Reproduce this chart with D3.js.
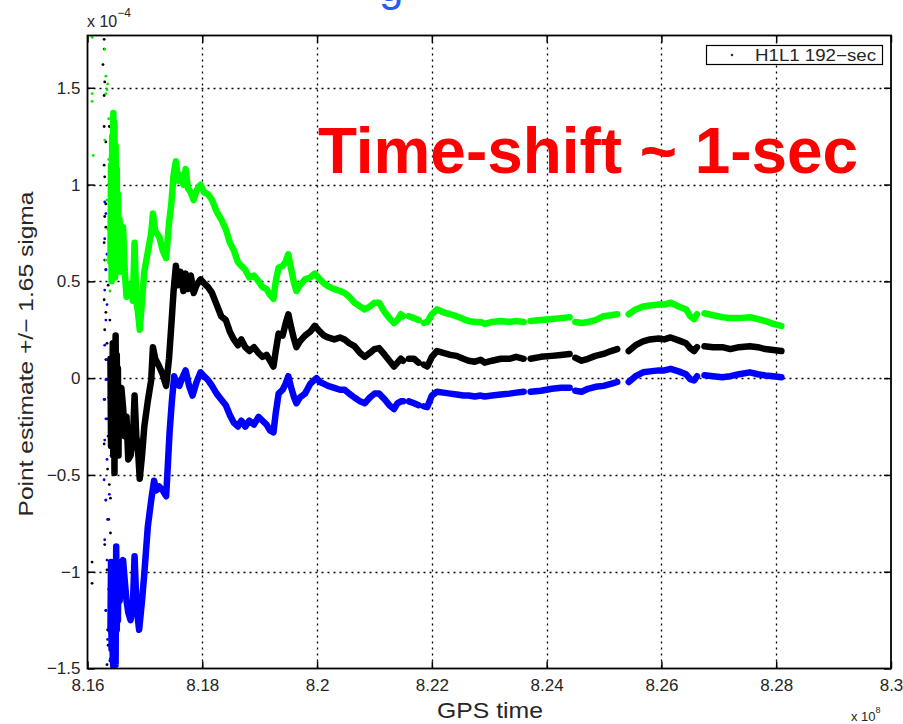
<!DOCTYPE html>
<html>
<head>
<meta charset="utf-8">
<script src="https://cdn.jsdelivr.net/npm/d3@7/dist/d3.min.js"></script>
<style>
  html, body { margin: 0; padding: 0; background: #fff; }
  svg { display: block; font-family: "Liberation Sans", Arial, Helvetica, sans-serif; }
</style>
</head>
<body>
<svg id="chart" width="903" height="724"></svg>
<script>
// ---------------- data ----------------
const xTickValues = [8.16, 8.18, 8.2, 8.22, 8.24, 8.26, 8.28, 8.3];
const xTickLabels = ["8.16", "8.18", "8.2", "8.22", "8.24", "8.26", "8.28", "8.3"];
const yTickValues = [-1.5, -1, -0.5, 0, 0.5, 1, 1.5];
const yTickLabels = ["\u22121.5", "\u22121", "\u22120.5", "0", "0.5", "1", "1.5"];
const xLabel = "GPS time";
const yLabel = "Point estimate +/\u2212 1.65 sigma";
const xExponent = "8";
const yExponent = "\u22124";
const legendLabel = "H1L1 192\u2212sec";
const annotation = "Time-shift ~ 1-sec";
const titleFragment = "g";

// x in units of 1e8 s, y in units of 1e-4 ; null = gap in data
const blackSeries = [
  [8.1640,0.10],[8.1641,-0.35],[8.1642,0.05],[8.1643,-0.30],[8.1644,0.18],[8.1645,-0.40],
  [8.1646,0.15],[8.1647,-0.49],[8.1648,0.10],[8.1649,0.22],[8.1650,-0.30],[8.1651,0.12],
  [8.1652,-0.20],[8.1653,0.05],[8.1654,-0.40],[8.1655,-0.05],[8.1656,-0.09],[8.1659,-0.05],
  [8.1662,-0.15],[8.1665,-0.30],
  [8.1668,-0.20],[8.1671,-0.42],[8.1675,-0.40],[8.1679,-0.32],[8.1682,-0.09],[8.1685,-0.30],
  [8.1688,-0.37],[8.1691,-0.52],[8.1695,-0.40],[8.1699,-0.25],[8.1705,-0.12],[8.1711,-0.01],
  [8.1714,0.16],[8.1718,0.10],[8.1725,0.06],[8.1731,0.02],[8.1737,-0.04],[8.1742,0.10],
  [8.1746,0.27],[8.1750,0.45],[8.1754,0.58],[8.1758,0.48],[8.1762,0.55],[8.1767,0.45],
  [8.1771,0.54],[8.1775,0.46],[8.1780,0.53],[8.1785,0.44],[8.1790,0.48],[8.1797,0.51],
  [8.1803,0.49],[8.1810,0.47],[8.1817,0.44],[8.1825,0.38],[8.1833,0.32],[8.1841,0.30],
  [8.1848,0.24],[8.1855,0.20],[8.1862,0.17],[8.1868,0.20],[8.1875,0.16],[8.1882,0.14],
  [8.1890,0.16],[8.1898,0.13],[8.1905,0.11],[8.1912,0.12],[8.1918,0.09],[8.1924,0.06],
  [8.1928,0.14],[8.1933,0.23],[8.1940,0.22],[8.1945,0.28],[8.1950,0.33],[8.1955,0.26],
  [8.1960,0.20],[8.1964,0.16],[8.1970,0.19],[8.1979,0.22],[8.1988,0.24],[8.1996,0.27],
  [8.2005,0.24],[8.2012,0.22],[8.2019,0.21],[8.2030,0.20],[8.2040,0.21],[8.2048,0.20],
  [8.2056,0.18],[8.2065,0.165],[8.2075,0.13],[8.2083,0.11],[8.2092,0.13],[8.2100,0.15],
  [8.2108,0.155],[8.2118,0.12],[8.2126,0.09],[8.2134,0.06],[8.2140,0.08],[8.2146,0.10],
  [8.2150,0.09],null,[8.2160,0.10],[8.2169,0.10],[8.2177,0.08],null,[8.2186,0.07],
  [8.2192,0.06],[8.2200,0.11],[8.2209,0.14],[8.2220,0.13],[8.2232,0.12],[8.2243,0.115],
  [8.2255,0.10],[8.2264,0.09],[8.2275,0.085],[8.2285,0.095],[8.2292,0.08],[8.2305,0.09],
  [8.2320,0.10],[8.2335,0.10],[8.2347,0.11],[8.2360,0.10],null,[8.2372,0.10],[8.2390,0.11],
  [8.2409,0.115],[8.2425,0.12],[8.2440,0.125],null,[8.2450,0.105],[8.2461,0.09],[8.2472,0.10],
  [8.2485,0.115],[8.2499,0.125],[8.2512,0.14],[8.2523,0.15],null,[8.2543,0.14],[8.2555,0.17],
  [8.2568,0.19],[8.2580,0.20],[8.2595,0.205],[8.2605,0.20],[8.2616,0.21],[8.2630,0.195],
  [8.2643,0.18],[8.2650,0.155],[8.2657,0.14],[8.2662,0.16],null,[8.2675,0.165],[8.2690,0.16],
  [8.2706,0.16],[8.2720,0.15],[8.2735,0.16],[8.2754,0.165],[8.2768,0.16],[8.2781,0.15],
  [8.2795,0.145],[8.2809,0.14]
];

const greenSeries = [
  [8.1640,0.60],[8.1641,1.10],[8.1642,0.50],[8.1643,1.25],[8.1644,0.75],[8.1645,1.37],
  [8.1646,0.60],[8.1647,1.32],[8.1648,0.52],[8.1649,1.20],[8.1650,0.55],[8.1651,1.08],
  [8.1652,0.60],[8.1653,0.95],[8.1654,0.58],[8.1656,0.82],[8.1657,0.55],[8.1659,0.75],
  [8.1662,0.78],[8.1665,0.55],[8.1668,0.42],[8.1672,0.48],[8.1676,0.47],[8.1679,0.40],[8.1682,0.70],
  [8.1685,0.40],[8.1688,0.34],[8.1691,0.25],[8.1695,0.40],[8.1699,0.55],[8.1705,0.65],
  [8.1711,0.75],[8.1714,0.85],[8.1718,0.76],[8.1725,0.73],[8.1731,0.66],[8.1737,0.62],
  [8.1742,0.80],[8.1746,0.90],[8.1750,1.05],[8.1754,1.12],[8.1758,1.02],[8.1762,1.05],
  [8.1767,1.00],[8.1771,1.08],[8.1775,0.98],[8.1780,0.96],[8.1785,0.92],[8.1790,0.97],
  [8.1797,1.00],[8.1803,0.96],[8.1810,0.95],[8.1817,0.92],[8.1825,0.86],[8.1833,0.82],
  [8.1841,0.77],[8.1848,0.70],[8.1855,0.66],[8.1862,0.60],[8.1868,0.58],[8.1875,0.56],
  [8.1882,0.52],[8.1890,0.53],[8.1898,0.50],[8.1905,0.47],[8.1912,0.46],[8.1918,0.43],
  [8.1924,0.41],[8.1928,0.50],[8.1933,0.57],[8.1940,0.58],[8.1945,0.60],[8.1950,0.64],
  [8.1955,0.56],[8.1960,0.49],[8.1964,0.45],[8.1970,0.48],[8.1979,0.51],[8.1988,0.52],
  [8.1996,0.54],[8.2005,0.51],[8.2012,0.49],[8.2019,0.475],[8.2030,0.46],[8.2040,0.45],
  [8.2048,0.44],[8.2056,0.42],[8.2065,0.39],[8.2075,0.37],[8.2083,0.355],[8.2092,0.37],
  [8.2100,0.39],[8.2108,0.39],[8.2118,0.34],[8.2126,0.31],[8.2134,0.285],[8.2140,0.30],
  [8.2146,0.33],[8.2150,0.32],null,[8.2160,0.32],[8.2169,0.31],[8.2177,0.30],null,
  [8.2186,0.285],[8.2192,0.29],[8.2200,0.33],[8.2209,0.355],[8.2220,0.34],[8.2232,0.33],
  [8.2243,0.32],[8.2255,0.305],[8.2264,0.295],[8.2275,0.29],[8.2285,0.29],[8.2292,0.28],
  [8.2305,0.29],[8.2320,0.295],[8.2335,0.29],[8.2347,0.295],[8.2360,0.29],null,[8.2372,0.295],
  [8.2390,0.30],[8.2409,0.305],[8.2425,0.31],[8.2440,0.315],null,[8.2450,0.29],[8.2461,0.285],
  [8.2472,0.29],[8.2485,0.30],[8.2499,0.32],[8.2512,0.325],[8.2523,0.33],null,[8.2543,0.33],
  [8.2555,0.355],[8.2568,0.37],[8.2580,0.375],[8.2595,0.38],[8.2605,0.38],[8.2616,0.39],
  [8.2630,0.37],[8.2643,0.355],[8.2650,0.32],[8.2657,0.305],[8.2662,0.33],null,[8.2675,0.335],
  [8.2690,0.325],[8.2706,0.315],[8.2720,0.31],[8.2735,0.31],[8.2754,0.315],[8.2768,0.305],
  [8.2781,0.295],[8.2795,0.28],[8.2809,0.27]
];

const blueSeries = [
  [8.1640,-1.30],[8.1641,-0.95],[8.1642,-1.40],[8.1643,-1.00],[8.1644,-1.45],[8.1645,-1.49],
  [8.1646,-0.95],[8.1647,-1.40],[8.1648,-1.10],[8.1649,-1.48],[8.1650,-0.87],[8.1651,-1.30],
  [8.1652,-1.05],[8.1653,-1.25],[8.1654,-0.95],[8.1656,-1.15],[8.1659,-1.00],[8.1662,-0.94],
  [8.1665,-1.05],[8.1668,-1.15],[8.1671,-1.21],[8.1675,-1.25],[8.1679,-1.18],[8.1682,-0.92],
  [8.1685,-1.15],[8.1688,-1.25],[8.1690,-1.30],[8.1695,-1.15],[8.1699,-1.01],[8.1705,-0.77],
  [8.1711,-0.63],[8.1716,-0.53],[8.1720,-0.58],[8.1725,-0.56],[8.1731,-0.58],[8.1737,-0.61],
  [8.1740,-0.45],[8.1743,-0.28],[8.1747,-0.12],[8.1751,0.01],[8.1755,-0.03],[8.1760,-0.04],
  [8.1765,0.00],[8.1771,0.04],[8.1777,-0.04],[8.1783,-0.09],[8.1790,-0.02],[8.1797,0.03],
  [8.1803,0.01],[8.1810,-0.01],[8.1817,-0.04],[8.1825,-0.08],[8.1833,-0.11],[8.1841,-0.14],
  [8.1848,-0.19],[8.1855,-0.23],[8.1862,-0.25],[8.1868,-0.22],[8.1875,-0.25],[8.1882,-0.22],
  [8.1890,-0.24],[8.1898,-0.20],[8.1905,-0.22],[8.1912,-0.24],[8.1918,-0.27],[8.1924,-0.28],
  [8.1928,-0.18],[8.1933,-0.08],[8.1940,-0.06],[8.1945,-0.03],[8.1950,0.01],[8.1955,-0.05],
  [8.1960,-0.10],[8.1964,-0.13],[8.1970,-0.10],[8.1979,-0.08],[8.1988,-0.03],[8.1999,0.00],
  [8.2005,-0.02],[8.2012,-0.03],[8.2019,-0.04],[8.2030,-0.05],[8.2040,-0.06],[8.2048,-0.06],
  [8.2056,-0.08],[8.2065,-0.10],[8.2075,-0.12],[8.2083,-0.13],[8.2092,-0.10],[8.2100,-0.08],
  [8.2108,-0.08],[8.2118,-0.11],[8.2126,-0.14],[8.2134,-0.16],[8.2140,-0.13],[8.2146,-0.12],
  [8.2150,-0.12],null,[8.2160,-0.12],[8.2169,-0.13],[8.2177,-0.14],null,[8.2186,-0.146],
  [8.2192,-0.15],[8.2200,-0.09],[8.2209,-0.07],[8.2220,-0.075],[8.2232,-0.08],[8.2243,-0.085],
  [8.2255,-0.09],[8.2264,-0.09],[8.2275,-0.095],[8.2285,-0.09],[8.2292,-0.095],[8.2305,-0.09],
  [8.2320,-0.085],[8.2335,-0.08],[8.2347,-0.075],[8.2360,-0.07],null,[8.2372,-0.07],
  [8.2390,-0.065],[8.2409,-0.055],[8.2425,-0.05],[8.2440,-0.05],null,[8.2450,-0.065],
  [8.2461,-0.07],[8.2472,-0.055],[8.2485,-0.045],[8.2499,-0.04],[8.2512,-0.03],[8.2523,-0.02],
  null,[8.2543,-0.02],[8.2555,0.01],[8.2568,0.03],[8.2580,0.035],[8.2595,0.04],[8.2605,0.04],
  [8.2616,0.048],[8.2630,0.035],[8.2643,0.02],[8.2650,-0.005],[8.2657,-0.012],[8.2662,0.01],
  null,[8.2675,0.015],[8.2690,0.01],[8.2706,0.005],[8.2720,0.01],[8.2735,0.02],[8.2754,0.03],
  [8.2768,0.02],[8.2781,0.014],[8.2795,0.01],[8.2809,0.005]
];

// early sparse scatter (start of the run)
const earlyBlack = [
  [8.1629,1.75],[8.1629,1.70],[8.1627,1.62],[8.1630,1.53],[8.1629,1.46],[8.1629,1.30],
  [8.1632,1.22],[8.1629,1.10],[8.1630,1.04],[8.1632,0.90],[8.1630,0.835],[8.1632,0.78],
  [8.1629,0.70],[8.1630,0.61],[8.1632,0.56],[8.1629,0.405],[8.1632,0.34],[8.1630,0.25],
  [8.1634,0.18],[8.1632,0.096],[8.1635,-0.008],[8.1630,-0.11],[8.1634,-0.21],[8.1629,-0.34],
  [8.1635,-0.47],[8.1632,-0.63],[8.1637,-0.73],[8.1630,-0.86],[8.1634,-0.99],[8.1639,-1.09],
  [8.1632,-1.20],[8.1635,-1.30],[8.1640,-1.40],[8.1634,-1.48],[8.1608,-0.95],[8.1608,-1.06],
  [8.1638,-0.55],[8.1640,-0.80],[8.1641,-1.15],[8.1638,-1.25],[8.1641,-0.40],[8.1639,0.30],
  [8.1637,1.00],[8.1640,-1.45],[8.1636,-0.30],[8.1638,-0.95],[8.1636,-1.38],[8.1640,-0.62],
  [8.1637,-0.10],[8.1639,-1.32],[8.1636,0.48],[8.1638,1.30]
];
const earlyGreen = [
  [8.1608,1.76],[8.1608,1.47],[8.1608,1.43],[8.1610,1.15],[8.1630,1.70],[8.1632,1.56],
  [8.1634,1.49],[8.1632,1.47],[8.1635,1.52],[8.1630,1.23],[8.1637,1.13],[8.1634,0.92],
  [8.1635,0.77],[8.1632,0.61],[8.1637,1.34],[8.1639,0.45],[8.1638,0.85],[8.1640,1.05]
];
const earlyBlue = [
  [8.1630,0.91],[8.1632,0.85],[8.1630,0.72],[8.1634,0.64],[8.1632,0.56],[8.1630,0.455],
  [8.1634,0.38],[8.1632,0.30],[8.1630,0.17],[8.1634,0.096],[8.1632,-0.008],[8.1629,-0.11],
  [8.1632,-0.21],[8.1630,-0.32],[8.1634,-0.42],[8.1629,-0.525],[8.1632,-0.63],[8.1635,-0.73],
  [8.1630,-0.835],[8.1634,-0.94],[8.1637,-1.09],[8.1632,-1.20],[8.1635,-1.35],[8.1639,-1.46],
  [8.1638,-0.60],[8.1640,-0.25],[8.1641,-1.0]
];

// ---------------- layout ----------------
const svg = d3.select("#chart");
const M = { left: 87.5, right: 891, top: 35.5, bottom: 668.5 };
const x = d3.scaleLinear().domain([8.16, 8.3]).range([M.left, M.right]);
const y = d3.scaleLinear().domain([-1.5, 1.77]).range([M.bottom, M.top]);
const W = M.right - M.left, H = M.bottom - M.top;
const FONT = "'Liberation Sans', Arial, Helvetica, sans-serif";
const TXT = "#262626";

svg.append("rect").attr("width", 903).attr("height", 724).attr("fill", "#fff");

// partial slide title letter at very top
svg.append("text").attr("x", 379).attr("y", 1)
  .attr("font-size", 44).attr("fill", "#1f5cff").attr("font-family", FONT)
  .text(titleFragment);

// grid
const grid = svg.append("g");
grid.selectAll("line.gx").data(xTickValues.filter(v => v > 8.16 && v < 8.3)).join("line")
  .attr("x1", d => Math.round(x(d)) + 0.5).attr("x2", d => Math.round(x(d)) + 0.5)
  .attr("y1", M.top).attr("y2", M.bottom)
  .attr("stroke", "#000").attr("stroke-width", 1.3).attr("stroke-dasharray", "2,4");
grid.selectAll("line.gy").data(yTickValues.filter(v => v > -1.5)).join("line")
  .attr("y1", d => Math.round(y(d)) + 0.5).attr("y2", d => Math.round(y(d)) + 0.5)
  .attr("x1", M.left).attr("x2", M.right)
  .attr("stroke", "#000").attr("stroke-width", 1.3).attr("stroke-dasharray", "2,4");

// data
const plot = svg.append("g");
plot.append("clipPath").attr("id", "clip").append("rect")
  .attr("x", M.left).attr("y", M.top).attr("width", W).attr("height", H);
const pg = plot.append("g").attr("clip-path", "url(#clip)");

const line = d3.line().defined(d => d !== null).x(d => x(d[0])).y(d => y(d[1]));

function drawEarly(data, color) {
  pg.append("g").selectAll("circle").data(data).join("circle")
    .attr("cx", d => x(d[0])).attr("cy", d => y(d[1])).attr("r", 1.4).attr("fill", color);
}
drawEarly(earlyBlack, "#000");
drawEarly(earlyGreen, "#00ee00");
drawEarly(earlyBlue, "#0000ff");

[[blackSeries, "#000000"], [greenSeries, "#00ff00"], [blueSeries, "#0000ff"]].forEach(([s, c]) => {
  pg.append("path").attr("d", line(s)).attr("fill", "none").attr("stroke", c)
    .attr("stroke-width", 6.5).attr("stroke-linejoin", "round").attr("stroke-linecap", "round");
});

// axes (ticks inside, both sides)
const tick = 7;
const axB = svg.append("g").attr("transform", `translate(0,${M.bottom})`)
  .call(d3.axisBottom(x).tickValues(xTickValues).tickSizeInner(-tick).tickSizeOuter(0).tickPadding(10)
    .tickFormat((d, i) => xTickLabels[i]));
const axT = svg.append("g").attr("transform", `translate(0,${M.top})`)
  .call(d3.axisTop(x).tickValues(xTickValues).tickSizeInner(-tick).tickSizeOuter(0).tickFormat(""));
const axL = svg.append("g").attr("transform", `translate(${M.left},0)`)
  .call(d3.axisLeft(y).tickValues(yTickValues).tickSizeInner(-tick).tickSizeOuter(0).tickPadding(7)
    .tickFormat((d, i) => yTickLabels[i]));
const axR = svg.append("g").attr("transform", `translate(${M.right},0)`)
  .call(d3.axisRight(y).tickValues(yTickValues).tickSizeInner(-tick).tickSizeOuter(0).tickFormat(""));
[axB, axT, axL, axR].forEach(a => {
  a.select(".domain").remove();
  a.selectAll(".tick line").attr("stroke", "#000").attr("stroke-width", 1.5);
  a.selectAll("text").attr("font-size", 17).attr("fill", TXT).attr("font-family", FONT);
});

// frame
svg.append("rect").attr("x", M.left).attr("y", M.top).attr("width", W).attr("height", H)
  .attr("fill", "none").attr("stroke", "#000").attr("stroke-width", 1.8);

// exponents
const ex = svg.append("text").attr("x", 87).attr("y", 27).attr("font-size", 16)
  .attr("fill", TXT).attr("font-family", FONT);
ex.append("tspan").text("x 10");
ex.append("tspan").attr("dy", -10).attr("font-size", 12).text(yExponent);

const ex2 = svg.append("text").attr("x", 851).attr("y", 721).attr("font-size", 13)
  .attr("fill", TXT).attr("font-family", FONT);
ex2.append("tspan").text("x 10");
ex2.append("tspan").attr("dy", -8).attr("font-size", 9).text(xExponent);

// axis labels
svg.append("text").attr("x", 490).attr("y", 718).attr("text-anchor", "middle")
  .attr("font-size", 22).attr("fill", TXT).attr("font-family", FONT)
  .attr("textLength", 106).attr("lengthAdjust", "spacingAndGlyphs").text(xLabel);
svg.append("text").attr("transform", `translate(33,354) rotate(-90)`)
  .attr("text-anchor", "middle").attr("font-size", 21).attr("fill", TXT)
  .attr("font-family", FONT).attr("textLength", 325).attr("lengthAdjust", "spacingAndGlyphs")
  .text(yLabel);

// legend
const lg = svg.append("g");
lg.append("rect").attr("x", 706.5).attr("y", 45.5).attr("width", 176).attr("height", 19)
  .attr("fill", "#fff").attr("stroke", "#000").attr("stroke-width", 1.2);
lg.append("circle").attr("cx", 732).attr("cy", 55).attr("r", 1.3).attr("fill", "#333");
lg.append("text").attr("x", 755).attr("y", 61).attr("font-size", 16).attr("fill", TXT)
  .attr("font-family", FONT).attr("textLength", 121).attr("lengthAdjust", "spacingAndGlyphs")
  .text(legendLabel);

// annotation
svg.append("text").attr("x", 318).attr("y", 173).attr("font-size", 64).attr("font-weight", "bold")
  .attr("fill", "#ff0000").attr("font-family", FONT)
  .attr("textLength", 540).attr("lengthAdjust", "spacingAndGlyphs").text(annotation);
</script>
</body>
</html>
